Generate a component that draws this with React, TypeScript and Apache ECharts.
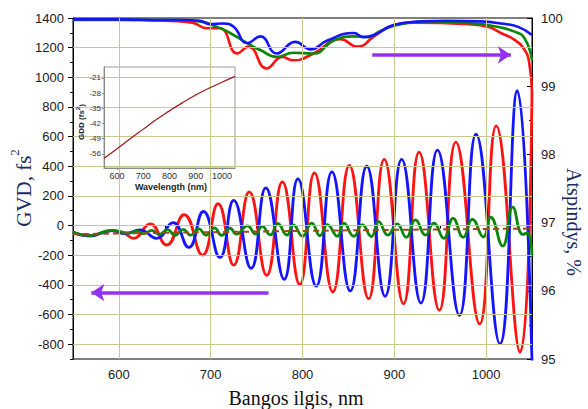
import React, { useEffect, useRef } from 'react';
import * as echarts from 'echarts';

// ---- axis ticks / grid values ----
const xTicks = [600, 700, 800, 900, 1000];
const xMinorTicks = [550, 650, 750, 850, 950, 1050];
const gvdTicks = [-800, -600, -400, -200, 0, 200, 400, 600, 800, 1000, 1200, 1400];
const gvdMinorTicks = [-900, -700, -500, -300, -100, 100, 300, 500, 700, 900, 1100, 1300];
const gridY = [-800, -600, -400, -200, 0, 200, 400, 600, 800, 1000, 1200];
const gridX = [600, 700, 800, 900, 1000];
const insetYTicks = [-56, -49, -42, -35, -28, -21];

// ---- target GDD (inset + dashed line) ----
const gddTarget: [number, number][] = [
  [550, -58], [600, -53.6], [650, -49], [700, -44.6], [750, -40.2], [800, -36.2],
  [850, -32.4], [900, -28.9], [950, -25.8], [1000, -23], [1050, -20.3],
];

// ---- GVD curves (fs^2) ----
const redGvd: [number, number][] = [
  [550, -45], [568, -70], [592, -34], [605, -50], [616, -86], [634, 12], [652, -131],
  [671, 73], [691, -199], [708, 147], [725, -267], [742, 227], [761, -335], [778, 295],
  [797, -398], [813, 356], [833, -448], [851, 405], [872, -493], [889, 446], [910, -527],
  [927, 496], [949, -572], [967, 563], [993, -663], [1011, 672], [1037, -855], [1050, 900],
];
const blueGvd: [number, number][] = [
  [550, -45], [568, -70], [592, -34], [607, -55], [623, -29], [641, -86], [659, 20],
  [676, -147], [692, 95], [710, -215], [725, 170], [744, -289], [760, 254], [780, -362],
  [795, 315], [815, -409], [832, 362], [852, -441], [870, 400], [890, -477], [908, 446],
  [929, -523], [947, 509], [971, -606], [989, 616], [1015, -798], [1034, 910], [1050, -920],
];
const greenGvd: [number, number][] = [
  [550, -45], [568, -68], [592, -32], [610, -50], [620, -38], [627, -55], [636, -32],
  [644, -60], [653, -28], [661, -66], [670, -26], [678, -64], [687, -22], [695, -64],
  [704, -16], [712, -66], [721, -18], [728, -58], [740, -2], [749, -57], [756, -6],
  [765, -63], [773, 14], [783, -64], [790, 4], [800, -72], [810, 16], [819, -68],
  [827, 6], [838, -72], [845, 16], [856, -72], [865, 6], [875, -74], [883, 26],
  [893, -64], [903, 12], [913, -79], [923, 38], [934, -64], [943, 16], [954, -86],
  [964, 48], [975, -79], [985, 42], [997, -76], [1005, 56], [1018, -138], [1029, 125],
  [1040, -60], [1045, -50], [1050, -210],
];

// ---- reflectance curves (%) ----
const blueR: [number, number][] = [
  [550, 99.98], [600, 99.98], [650, 99.97], [667, 99.97], [688, 99.96], [699, 99.91],
  [714, 99.92], [725, 99.87], [740, 99.63], [754, 99.73], [772, 99.48], [792, 99.65],
  [809, 99.54], [827, 99.67], [856, 99.78], [866, 99.72], [878, 99.75], [900, 99.9],
  [929, 99.95], [958, 99.96], [994, 99.95], [1016, 99.92], [1035, 99.87], [1050, 99.75],
];
const greenR: [number, number][] = [
  [550, 99.98], [600, 99.98], [650, 99.97], [667, 99.97], [688, 99.95], [707, 99.87],
  [721, 99.78], [740, 99.63], [754, 99.53], [772, 99.43], [790, 99.49], [812, 99.48],
  [834, 99.67], [856, 99.73], [871, 99.72], [885, 99.81], [907, 99.91], [943, 99.95],
  [987, 99.92], [1009, 99.88], [1031, 99.8], [1042, 99.7], [1050, 99.38],
];
const redR: [number, number][] = [
  [550, 99.97], [600, 99.97], [650, 99.96], [680, 99.93], [696, 99.85], [710, 99.85],
  [729, 99.48], [741, 99.58], [761, 99.26], [778, 99.43], [790, 99.38], [812, 99.48],
  [841, 99.69], [860, 99.58], [878, 99.73], [896, 99.88], [922, 99.93], [980, 99.91],
  [1002, 99.87], [1016, 99.78], [1031, 99.68], [1042, 99.53], [1047, 99.34], [1050, 98.9],
];

// ---- direction arrows ----
const leftArrow: [number, number][] = [[763, -452], [570, -452]];
const rightArrow: [number, number][] = [[876, 99.46], [1027, 99.46]];

const RED = '#ff1212';
const BLUE = '#1414ff';
const GREEN = '#0a870a';
const BROWN = '#9c4a1c';
const PURPLE = '#9531f2';
const GRID = '#cbc58f';
const TITLE = '#1c2b66';
const SANS = 'Liberation Sans, Arial, sans-serif';
const SERIF = 'Liberation Serif, Times New Roman, serif';
const plain = (v: number) => String(v);

export default function App() {
  const ref = useRef<HTMLDivElement>(null);
  useEffect(() => {
    if (!ref.current) return;
    const chart = echarts.init(ref.current, undefined, { renderer: 'svg' });
    const tickLabel = { fontFamily: SANS, fontSize: 13, color: '#1a1a1a', formatter: plain };
    const curve = (name: string, data: [number, number][], color: string, yAxisIndex: number, width = 2.6) => ({
      type: 'line', name, data, xAxisIndex: 0, yAxisIndex, smooth: 0.5, showSymbol: false, symbol: 'none',
      lineStyle: { color, width }, itemStyle: { color }, z: 4, silent: true,
    });
    chart.setOption({
      animation: false,
      grid: [
        { left: 73, top: 18, right: 56, bottom: 50, show: true, borderColor: '#000', borderWidth: 1, backgroundColor: 'transparent', outerBoundsMode: 'none', containLabel: false },
        { left: 104, top: 67, width: 131, height: 101, show: true, borderColor: '#9a9a9a', borderWidth: 1, backgroundColor: 'transparent', z: 3, outerBoundsMode: 'none', containLabel: false },
      ],
      xAxis: [
        {
          type: 'value', gridIndex: 0, min: 550, max: 1050, position: 'bottom',
          axisLine: { show: true, lineStyle: { color: '#000', width: 1 } },
          axisTick: { show: true, customValues: xTicks, length: 5, lineStyle: { color: '#000' } },
          axisLabel: { show: true, customValues: xTicks, margin: 9, ...tickLabel },
          splitLine: { show: false },
        },
        {
          type: 'value', gridIndex: 0, min: 550, max: 1050, position: 'bottom', offset: 0,
          axisLine: { show: false },
          axisTick: { show: true, customValues: xMinorTicks, length: 3, lineStyle: { color: '#000' } },
          axisLabel: { show: false }, splitLine: { show: false },
        },
        {
          type: 'value', gridIndex: 1, min: 550, max: 1050, position: 'bottom', z: 5,
          axisLine: { show: true, lineStyle: { color: '#8a8a8a' } },
          axisTick: { show: true, customValues: xTicks, length: 2, lineStyle: { color: '#8a8a8a' } },
          axisLabel: { show: true, customValues: xTicks, margin: 3, fontFamily: SANS, fontSize: 9, color: '#333', formatter: plain },
          splitLine: { show: false },
        },
      ],
      yAxis: [
        {
          type: 'value', gridIndex: 0, min: -900, max: 1400, position: 'left',
          axisLine: { show: true, lineStyle: { color: '#000', width: 1 } },
          axisTick: { show: true, customValues: gvdTicks, length: 5, lineStyle: { color: '#000' } },
          axisLabel: { show: true, customValues: gvdTicks, margin: 9, ...tickLabel },
          splitLine: { show: false },
        },
        {
          type: 'value', gridIndex: 0, min: -900, max: 1400, position: 'left', offset: 0,
          axisLine: { show: false },
          axisTick: { show: true, customValues: gvdMinorTicks, length: 3, lineStyle: { color: '#000' } },
          axisLabel: { show: false }, splitLine: { show: false },
        },
        {
          type: 'value', gridIndex: 0, min: 95, max: 100, interval: 1, position: 'right',
          axisLine: { show: true, lineStyle: { color: '#000', width: 1 } },
          axisTick: { show: true, inside: true, length: 5, lineStyle: { color: '#000' } },
          minorTick: { show: true, splitNumber: 2, length: 3, lineStyle: { color: '#000' } },
          axisLabel: { show: true, margin: 9, ...tickLabel },
          splitLine: { show: false },
        },
        {
          type: 'value', gridIndex: 1, min: -62.5, max: -16, position: 'left', z: 5,
          axisLine: { show: true, lineStyle: { color: '#8a8a8a' } },
          axisTick: { show: true, customValues: insetYTicks, length: 2, lineStyle: { color: '#8a8a8a' } },
          axisLabel: { show: true, customValues: insetYTicks, margin: 3, fontFamily: SANS, fontSize: 8, color: '#333', formatter: plain },
          splitLine: { show: false },
        },
      ],
      graphic: [
        { type: 'rect', z: 2, shape: { x: 75, y: 63, width: 163, height: 129 }, style: { fill: '#fff' }, silent: true },
        {
          type: 'text', z: 10, x: 21, y: 188, rotation: Math.PI / 2, silent: true,
          style: {
            text: '{a|GVD, fs}{s|2}', align: 'center', verticalAlign: 'middle',
            rich: {
              a: { fontFamily: SERIF, fontSize: 21, fill: TITLE, lineHeight: 26, verticalAlign: 'bottom' },
              s: { fontFamily: SERIF, fontSize: 13, fill: TITLE, lineHeight: 26, verticalAlign: 'top' },
            },
          },
        },
        {
          type: 'text', z: 10, x: 574, y: 222, rotation: -Math.PI / 2, silent: true,
          style: { text: 'Atspindys, %', align: 'center', verticalAlign: 'middle', fontFamily: SERIF, fontSize: 20, fill: TITLE },
        },
        {
          type: 'text', z: 10, x: 296, y: 398, silent: true,
          style: { text: 'Bangos ilgis, nm', align: 'center', verticalAlign: 'middle', fontFamily: SERIF, fontSize: 20, fill: '#111' },
        },
        {
          type: 'text', z: 10, x: 171, y: 187, silent: true,
          style: { text: 'Wavelength (nm)', align: 'center', verticalAlign: 'middle', fontFamily: SANS, fontWeight: 'bold', fontSize: 9, fill: '#222' },
        },
        {
          type: 'text', z: 10, x: 80, y: 122, rotation: Math.PI / 2, silent: true,
          style: {
            text: '{a|GDD (fs}{s|2}{a|)}', align: 'center', verticalAlign: 'middle',
            rich: {
              a: { fontFamily: SANS, fontWeight: 'bold', fontSize: 8, fill: '#222', lineHeight: 10, verticalAlign: 'bottom' },
              s: { fontFamily: SANS, fontWeight: 'bold', fontSize: 6, fill: '#222', lineHeight: 10, verticalAlign: 'top' },
            },
          },
        },
      ],
      series: [
        {
          type: 'line', name: 'grid', data: [], xAxisIndex: 0, yAxisIndex: 0, z: 1, silent: true,
          markLine: {
            silent: true, symbol: ['none', 'none'], label: { show: false },
            lineStyle: { color: GRID, type: 'solid', width: 1 },
            emphasis: { disabled: true },
            data: [...gridY.map((v) => ({ yAxis: v })), ...gridX.map((v) => ({ xAxis: v }))],
          },
        },
        curve('R red', redR, RED, 2),
        curve('R green', greenR, GREEN, 2),
        curve('R blue', blueR, BLUE, 2),
        curve('GVD red', redGvd, RED, 0, 2.8),
        curve('GVD blue', blueGvd, BLUE, 0, 2.8),
        {
          type: 'line', name: 'target', data: gddTarget, xAxisIndex: 0, yAxisIndex: 0, smooth: true, symbol: 'none',
          lineStyle: { color: BROWN, width: 2, type: [6, 4] }, z: 5, silent: true,
        },
        curve('GVD green', greenGvd, GREEN, 0, 2.8),
        {
          type: 'line', name: 'inset', data: gddTarget, xAxisIndex: 2, yAxisIndex: 3, smooth: true, symbol: 'none',
          lineStyle: { color: '#a01818', width: 1.2 }, z: 6, silent: true,
        },
        {
          type: 'line', name: 'arrowL', data: [], xAxisIndex: 0, yAxisIndex: 0, z: 6, silent: true,
          markLine: {
            silent: true, symbol: ['none', 'arrow'], symbolSize: 13, label: { show: false },
            lineStyle: { color: PURPLE, type: 'solid', width: 3.5 },
            itemStyle: { color: PURPLE },
            emphasis: { disabled: true },
            data: [[{ coord: leftArrow[0] }, { coord: leftArrow[1] }]],
          },
        },
        {
          type: 'line', name: 'arrowR', data: [], xAxisIndex: 0, yAxisIndex: 2, z: 6, silent: true,
          markLine: {
            silent: true, symbol: ['none', 'arrow'], symbolSize: 13, label: { show: false },
            lineStyle: { color: PURPLE, type: 'solid', width: 3.5 },
            itemStyle: { color: PURPLE },
            emphasis: { disabled: true },
            data: [[{ coord: rightArrow[0] }, { coord: rightArrow[1] }]],
          },
        },
      ],
    });
    return () => chart.dispose();
  }, []);
  return <div ref={ref} style={{ position: 'fixed', left: 0, top: 0, width: 588, height: 409, background: '#fff' }} />;
}
